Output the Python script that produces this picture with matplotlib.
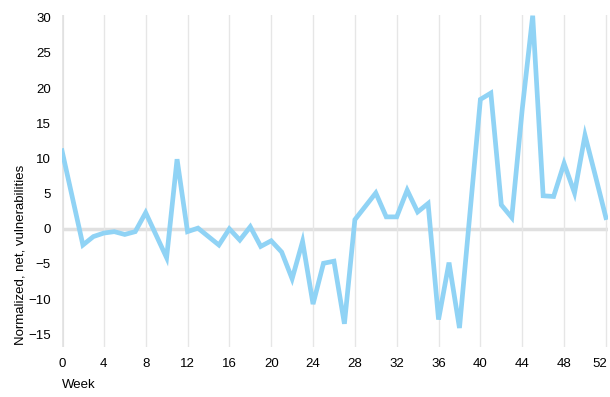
import numpy as np
import matplotlib
matplotlib.use("Agg")
import matplotlib.pyplot as plt
from matplotlib.transforms import ScaledTranslation

plt.rcParams['font.family'] = ['Liberation Sans', 'DejaVu Sans']

# weekly values
weeks = np.arange(0, 53)
values = np.array([
    11.1, 4.4, -2.3, -1.1, -0.6, -0.4, -0.8, -0.4, 2.3, -0.9,
    -4.1, 9.9, -0.4, 0.1, -1.1, -2.3, 0.0, -1.6, 0.3, -2.5,
    -1.7, -3.3, -7.1, -1.8, -10.7, -4.9, -4.6, -13.5, 1.3, 3.2,
    5.1, 1.7, 1.7, 5.5, 2.4, 3.6, -12.9, -4.8, -14.1, 2.2,
    18.4, 19.3, 3.4, 1.6, 17.0, 30.3, 4.7, 4.6, 9.3, 5.1,
    13.3, 7.5, 1.6])

xticks = list(range(0, 53, 4))
yticks = list(range(-15, 31, 5))

fig = plt.figure(figsize=(6.10, 3.97), dpi=100)
W, H = 610, 397
ax = fig.add_axes([62 / W, 1 - 347 / H, 546 / W, 332 / H])

ax.plot(weeks, values, color='#90d3f5', lw=3.4, solid_joinstyle='miter', zorder=3)

ax.set_xlim(0, 52.2)
ax.set_ylim(-16.8, 30.4)
ax.set_xticks(xticks)
ax.set_yticks(yticks)
ax.tick_params(length=0, labelsize=9.5, pad=8)
ax.grid(axis='x', color='#e6e6e6', lw=1)
ax.axhline(0, color='#e0e0e0', lw=2.5, zorder=1)
ax.axvline(0, color='#e0e0e0', lw=3, zorder=1)
for s in ax.spines.values():
    s.set_visible(False)

# last label sits a bit left of its gridline, as in the original
last = ax.get_xticklabels()[-1]
last.set_transform(last.get_transform() + ScaledTranslation(-6 / 100, 0, fig.dpi_scale_trans))

fig.text(62 / W, 1 - 385 / H, 'Week', fontsize=9.5, ha='left', va='center')
fig.text(21 / W, 1 - 345 / H, 'Normalized, net, vulnerabilities', fontsize=9.5,
         rotation=90, ha='center', va='bottom')

fig.savefig('out.png', dpi=100)
